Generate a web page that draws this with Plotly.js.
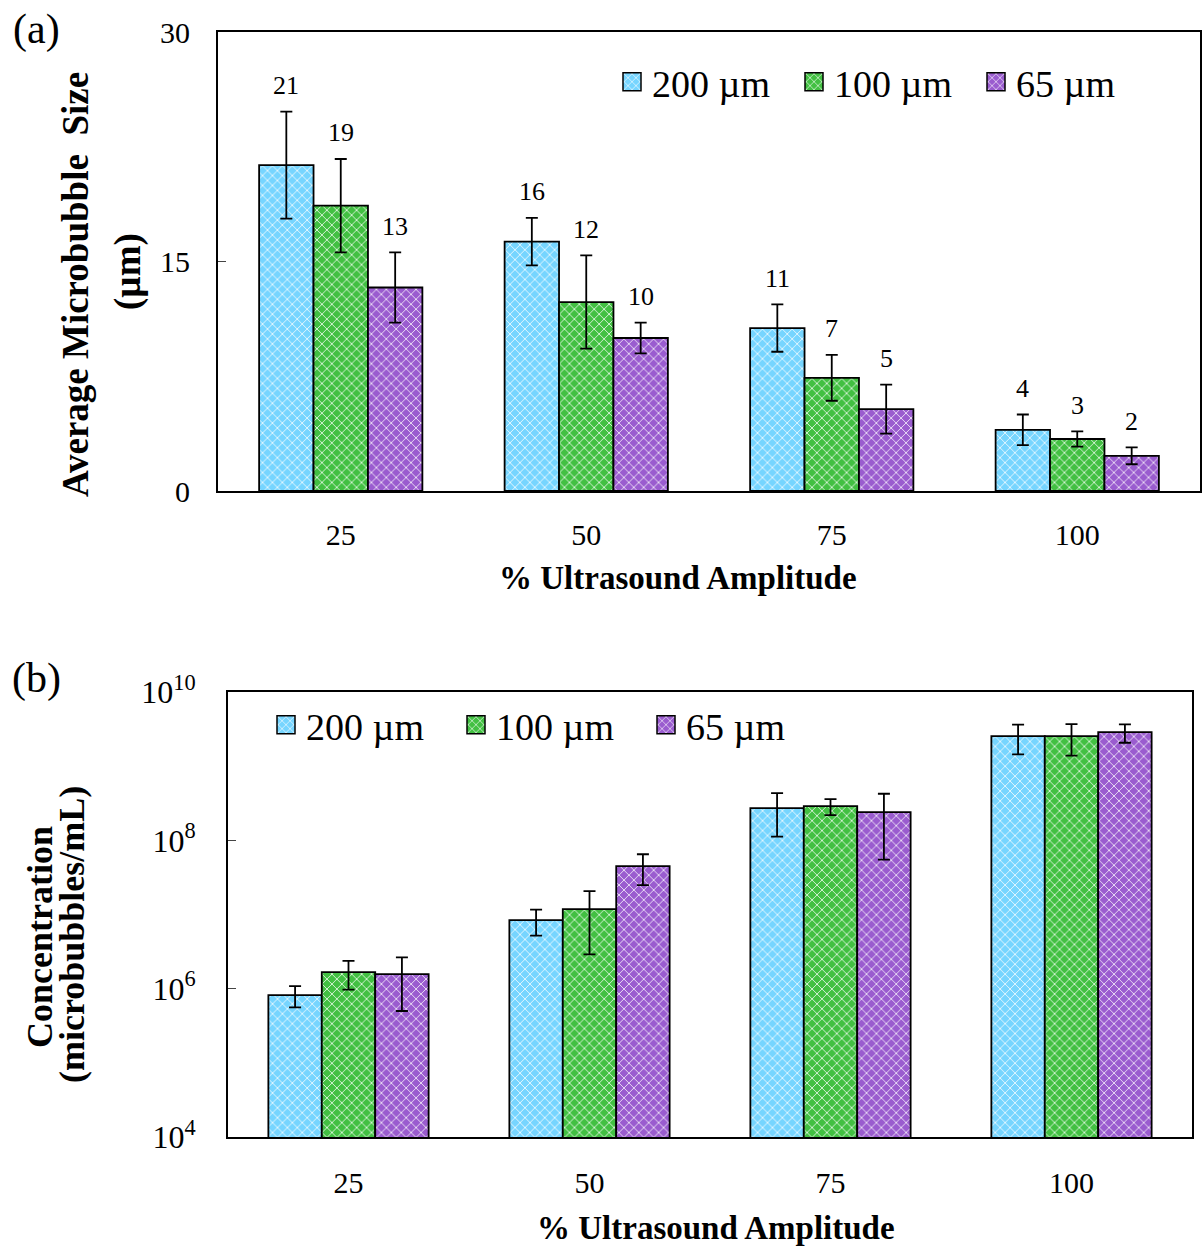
<!DOCTYPE html>
<html>
<head>
<meta charset="utf-8">
<script src="https://cdn.plot.ly/plotly-3.0.1.min.js"></script>
<style>
  html, body { margin: 0; padding: 0; background: #ffffff; }
  #chart { width: 1204px; height: 1249px; }
</style>
</head>
<body>
<div id="chart"></div>
<script>
// Ultrasound amplitude groups (x categories)
const amplitudes = ['25', '50', '75', '100'];

// Series (horn tip / orifice sizes)
const seriesNames = ['200 µm', '100 µm', '65 µm'];
const seriesColors = ['#76d5ff', '#42c042', '#9a5ccf'];

// (a) Average microbubble size (µm) and standard deviation
const size200 = [21.3, 16.3, 10.65, 4.0];
const size100 = [18.65, 12.35, 7.4, 3.4];
const size65  = [13.3, 10.0, 5.35, 2.3];
const sizeErr200 = [3.5, 1.55, 1.55, 1.0];
const sizeErr100 = [3.05, 3.05, 1.5, 0.5];
const sizeErr65  = [2.3, 1.0, 1.6, 0.55];

// (b) Concentration (microbubbles/mL) and standard deviation
const conc200 = [8.2e5, 8.4e6, 2.72e8, 2.54e9];
const conc100 = [1.67e6, 1.18e7, 2.89e8, 2.54e9];
const conc65  = [1.57e6, 4.49e7, 2.4e8, 2.87e9];
const concErr200 = [2.6e5, 3.2e6, 1.6e8, 1.1e9];
const concErr100 = [7.0e5, 8.9e6, 7.0e7, 1.15e9];
const concErr65  = [1.07e6, 2.0e7, 1.85e8, 8.0e8];

// Log-axis ticks for panel (b)
const concTickVals = [1e4, 1e6, 1e8, 1e10];
const concTickText = ['10<sup>4</sup>', '10<sup>6</sup>', '10<sup>8</sup>', '10<sup>10</sup>'];

const FONT = 'Liberation Serif';
const BARGAP = 0.335;

const sizeVals = [size200, size100, size65];
const sizeErrs = [sizeErr200, sizeErr100, sizeErr65];
const concVals = [conc200, conc100, conc65];
const concErrs = [concErr200, concErr100, concErr65];

function barTrace(k, y, err, xa, ya, legendName) {
  return {
    type: 'bar',
    name: seriesNames[k],
    x: amplitudes,
    y: y,
    xaxis: xa,
    yaxis: ya,
    legend: legendName,
    marker: {
      color: seriesColors[k],
      line: { color: '#000000', width: 1.8 },
      pattern: {
        shape: 'x',
        bgcolor: seriesColors[k],
        fgcolor: '#ffffff',
        fgopacity: 0.8,
        size: 7,
        solidity: 0.25
      }
    },
    error_y: {
      type: 'data',
      array: err,
      visible: true,
      color: '#000000',
      thickness: 1.8,
      width: 6
    },
    hoverinfo: 'x+y+name'
  };
}

const traces = [];
for (let k = 0; k < 3; k++) traces.push(barTrace(k, sizeVals[k], sizeErrs[k], 'x', 'y', 'legend'));
for (let k = 0; k < 3; k++) traces.push(barTrace(k, concVals[k], concErrs[k], 'x2', 'y2', 'legend2'));

// Rounded value labels above the error bars in panel (a)
const annotations = [];
const slot = (1 - BARGAP) / 3;
for (let k = 0; k < 3; k++) {
  for (let i = 0; i < amplitudes.length; i++) {
    annotations.push({
      xref: 'x', yref: 'y',
      x: i + (k - 1) * slot,
      y: sizeVals[k][i] + sizeErrs[k][i],
      text: String(Math.round(sizeVals[k][i])),
      showarrow: false,
      yanchor: 'middle',
      yshift: 26,
      font: { family: FONT, size: 26, color: '#000000' }
    });
  }
}

function paperText(text, xpx, ypx, size, angle) {
  return {
    xref: 'paper', yref: 'paper',
    x: xpx / 1204, y: 1 - ypx / 1249,
    xanchor: 'center', yanchor: 'middle',
    text: text, showarrow: false,
    textangle: angle || 0,
    font: { family: FONT, size: size, color: '#000000' }
  };
}

// Panel letters and axis titles
annotations.push(paperText('(a)', 36, 30, 42));
annotations.push(paperText('(b)', 36, 678, 42));
annotations.push(paperText('<b>% Ultrasound Amplitude</b>', 678, 578, 33));
annotations.push(paperText('<b>% Ultrasound Amplitude</b>', 716, 1228, 33));
annotations.push(paperText('<b>Average Microbubble&nbsp; Size</b>', 76, 285, 37, -90));
annotations.push(paperText('<b>(µm)</b>', 128, 272, 37, -90));
annotations.push(paperText('<b>Concentration</b>', 40, 937, 36, -90));
annotations.push(paperText('<b>(microbubbles/mL)</b>', 72, 935, 36, -90));

const axisLine = { showline: true, linecolor: '#000000', linewidth: 2, mirror: true, zeroline: false, showgrid: false };

const layout = {
  width: 1204,
  height: 1249,
  margin: { l: 0, r: 0, t: 0, b: 0 },
  paper_bgcolor: '#ffffff',
  plot_bgcolor: '#ffffff',
  font: { family: FONT, color: '#000000' },
  barmode: 'group',
  bargap: BARGAP,
  bargroupgap: 0,
  xaxis: Object.assign({}, axisLine, {
    domain: [218 / 1204, 1200 / 1204],
    anchor: 'y',
    type: 'category',
    ticks: '',
    ticklabelstandoff: 16,
    tickfont: { family: FONT, size: 30 }
  }),
  yaxis: Object.assign({}, axisLine, {
    domain: [1 - 491 / 1249, 1 - 32 / 1249],
    anchor: 'x',
    range: [0, 30],
    tickvals: [0, 15, 30],
    ticks: 'inside',
    ticklen: 8,
    tickwidth: 1.5,
    ticklabelstandoff: 20,
    tickfont: { family: FONT, size: 30 }
  }),
  xaxis2: Object.assign({}, axisLine, {
    domain: [228 / 1204, 1192 / 1204],
    anchor: 'y2',
    type: 'category',
    ticks: '',
    ticklabelstandoff: 18,
    tickfont: { family: FONT, size: 30 }
  }),
  yaxis2: Object.assign({}, axisLine, {
    domain: [1 - 1137 / 1249, 1 - 692 / 1249],
    anchor: 'x2',
    type: 'log',
    range: [4, 10],
    tickvals: concTickVals,
    ticktext: concTickText,
    ticks: 'inside',
    ticklen: 8,
    tickwidth: 1.5,
    ticklabelstandoff: 24,
    tickfont: { family: FONT, size: 32 }
  }),
  legend: {
    orientation: 'h',
    x: 612 / 1204, xanchor: 'left',
    y: 1 - 82 / 1249, yanchor: 'middle',
    bgcolor: 'rgba(0,0,0,0)',
    font: { family: FONT, size: 38 },
    itemwidth: 30,
    entrywidth: 137,
    entrywidthmode: 'pixels',
    traceorder: 'normal'
  },
  legend2: {
    orientation: 'h',
    x: 266 / 1204, xanchor: 'left',
    y: 1 - 725 / 1249, yanchor: 'middle',
    bgcolor: 'rgba(0,0,0,0)',
    font: { family: FONT, size: 38 },
    itemwidth: 30,
    entrywidth: 145,
    entrywidthmode: 'pixels',
    traceorder: 'normal'
  },
  annotations: annotations,
  showlegend: true
};

Plotly.newPlot('chart', traces, layout, { displayModeBar: false, staticPlot: true }).then(function (gd) {
  // Larger legend swatches with a firm outline (position transform left untouched)
  gd.querySelectorAll('.legendpoints path').forEach(function (p) {
    p.setAttribute('d', 'M9,9H-9V-9H9Z');
    p.style.strokeWidth = '1.5px';
    p.style.stroke = '#000000';
  });
});
</script>
</body>
</html>
